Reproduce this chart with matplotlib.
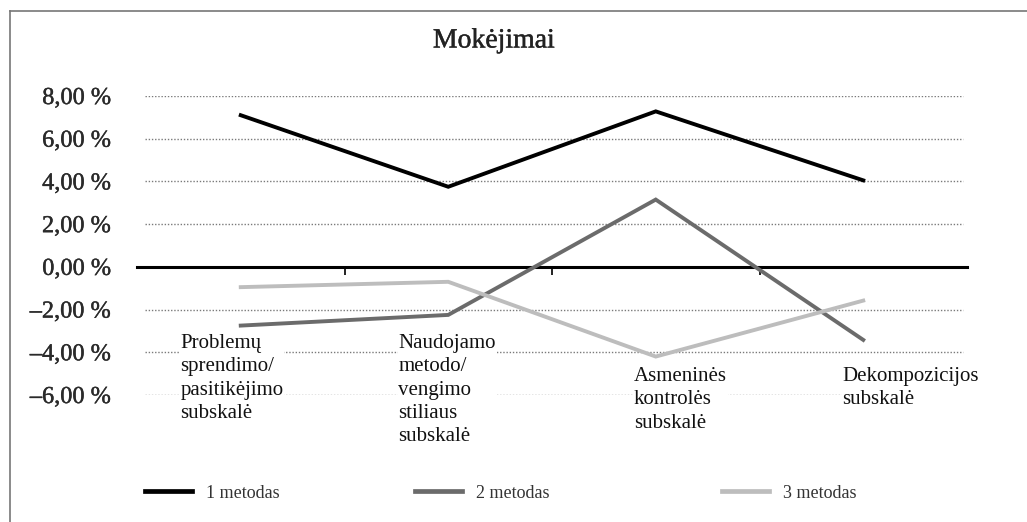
import matplotlib.pyplot as plt
import matplotlib.patheffects as pe
from matplotlib.lines import Line2D

plt.rcParams["font.family"] = ["Liberation Serif", "DejaVu Serif"]

categories = [
    "Problemų\nsprendimo/\npasitikėjimo\nsubskalė",
    "Naudojamo\nmetodo/\nvengimo\nstiliaus\nsubskalė",
    "Asmeninės\nkontrolės\nsubskalė",
    "Dekompozicijos\nsubskalė",
]
series_names = ["1 metodas", "2 metodas", "3 metodas"]
metodas1 = [7.10, 3.75, 7.28, 4.05]
metodas2 = [-2.75, -2.25, 3.15, -3.42]
metodas3 = [-0.95, -0.70, -4.20, -1.58]
y_ticks = [8, 6, 4, 2, 0, -2, -4, -6]
y_tick_labels = ["8,00 %", "6,00 %", "4,00 %", "2,00 %", "0,00 %",
                 "\u20132,00 %", "\u20134,00 %", "\u20136,00 %"]

colors = ["#000000", "#6b6b6b", "#bdbdbd"]
heavy = [pe.withStroke(linewidth=0.3, foreground="#2a2a2a")]

fig = plt.figure(figsize=(10.27, 5.22), dpi=100)
ax = fig.add_axes([137 / 1027, 1 - 395 / 522, 830 / 1027, 299 / 522])

# dotted grid
for t in y_ticks:
    if t != 0:
        ax.axhline(t, xmin=0.01, xmax=0.995, color="#7a7a7a", lw=1.0,
                   ls=(0, (1, 1.3)), zorder=1)

x = list(range(len(categories)))
for vals, c, name in zip([metodas1, metodas2, metodas3], colors, series_names):
    ax.plot(x, vals, color=c, lw=2.8, zorder=3, label=name,
            solid_joinstyle="miter")

ax.set_xlim(-0.5, 3.5)
ax.set_ylim(-6, 8)

for s in ["top", "right", "left"]:
    ax.spines[s].set_visible(False)
ax.spines["bottom"].set_position(("data", 0))
ax.spines["bottom"].set_linewidth(2.2)
ax.spines["bottom"].set_zorder(2)
ax.set_xticks([0.5, 1.5, 2.5])
ax.set_xticklabels([])
ax.tick_params(axis="x", direction="out", length=6, width=1.4, color="#222222")

ax.set_yticks(y_ticks)
ax.set_yticklabels(y_tick_labels, fontsize=17.5, color="#2a2a2a")
for lbl in ax.get_yticklabels():
    lbl.set_path_effects(heavy)
ax.tick_params(axis="y", length=0, pad=19)

# category labels below the chart
label_offset = [-0.29, -0.24, -0.105, -0.10]
label_top = [-3.15, -3.15, -4.7, -4.7]
for i, lab in enumerate(categories):
    ax.text(i + label_offset[i], label_top[i], lab, ha="left", va="top",
            fontsize=15, linespacing=1.3, color="#111111", zorder=4,
            bbox=dict(facecolor="white", edgecolor="none", pad=0.5))

fig.text(494 / 1027, 1 - 41 / 522, "Mokėjimai", ha="center", va="center",
         fontsize=20, color="#222222", path_effects=heavy)

# legend items
legend_x = [129 / 1027, 399 / 1027, 706 / 1027]
for name, c, lx in zip(series_names, colors, legend_x):
    h = Line2D([], [], color=c, lw=3.4)
    fig.legend([h], [name], loc="center left", bbox_to_anchor=(lx, 1 - 493 / 522),
               frameon=False, fontsize=13, handlelength=2.6, handletextpad=0.75,
               labelcolor="#333333")

# outer frame (top and left edges)
fig.add_artist(Line2D([10 / 1027, 1.0], [1 - 11 / 522, 1 - 11 / 522],
                      transform=fig.transFigure, color="#777777", lw=1.2))
fig.add_artist(Line2D([10 / 1027, 10 / 1027], [0.0, 1 - 11 / 522],
                      transform=fig.transFigure, color="#777777", lw=1.2))

fig.savefig("out.png", dpi=100)
